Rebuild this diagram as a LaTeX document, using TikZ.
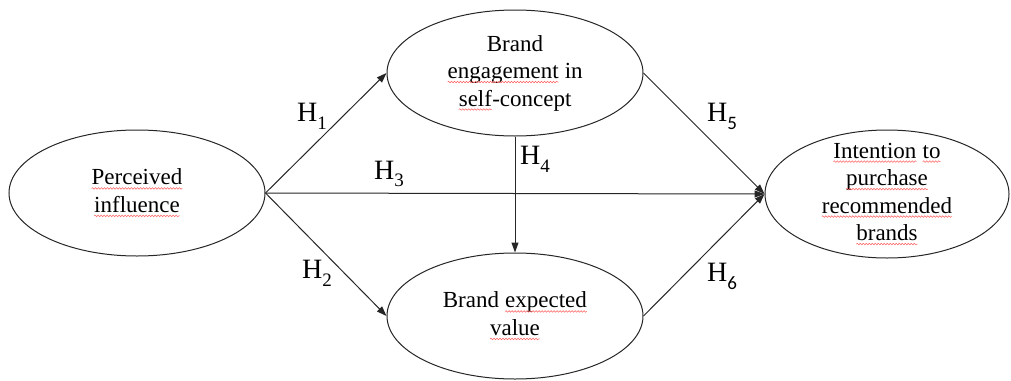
\documentclass[tikz,border=0pt]{standalone}
\usepackage{fontspec}
\setmainfont{Liberation Serif}
\newfontfamily\subfont{Carlito}
\usetikzlibrary{shapes.geometric,arrows.meta,decorations.pathmorphing}
\newcommand\spellwave[1]{\tikz[baseline=(w.base)]{%
  \node[shape=rectangle,draw=none,fill=none,minimum width=0pt,minimum height=0pt,inner sep=0pt,outer sep=0pt] (w) {#1};
  \draw[red!60,line width=0.55pt,decorate,decoration={snake,amplitude=0.8pt,segment length=3pt}]
    ([yshift=-3.5pt]w.base west) -- ([yshift=-3.5pt]w.base east);}}
\begin{document}
\begin{tikzpicture}[x=1pt,y=-1pt,
construct/.style={ellipse,draw=black!85,line width=1pt,fill=white,minimum width=256pt,minimum height=126pt,inner sep=0pt,align=center,font=\fontsize{23}{27.5}\selectfont},
hyp/.style={inner sep=0pt,font=\fontsize{28}{30}\selectfont},
path/.style={draw=black!85,line width=1pt,-{Triangle[length=10pt,width=7pt]}},
]
\useasboundingbox (0,0) rectangle (1011,380);

% constructs
\node[construct] (infl) at (137,193) {\spellwave{Perceived}\\ \spellwave{influence}};
\node[construct] (engage) at (515,73) {Brand\\ \spellwave{engagement} in\\ \spellwave{self}-concept};
\node[construct] (value) at (515,316) {Brand \spellwave{expected}\\ \spellwave{value}};
\node[construct,minimum width=244pt,minimum height=128pt,inner ysep=-18pt] (intent) at (887,194)
  {\spellwave{Intention} \spellwave{to}\\ \spellwave{purchase}\\ \spellwave{recommended}\\ \spellwave{brands}};

% paths
\path[path] (infl.east) -- (engage.west);
\path[path] (infl.east) -- (value.west);
\path[path] (infl.east) -- (intent.west);
\path[path] (engage.south) -- (value.north);
\path[path] (engage.east) -- (intent.west);
\path[path] (value.east) -- (intent.west);

% hypotheses
\node[hyp] (h1) at (312,116) {H\raisebox{-0.28em}{\fontsize{19}{19}\selectfont 1}};
\node[hyp] (h2) at (317,273) {H\raisebox{-0.28em}{\fontsize{19}{19}\selectfont 2}};
\node[hyp] (h3) at (389,174) {H\raisebox{-0.28em}{\fontsize{19}{19}\selectfont 3}};
\node[hyp] (h4) at (535,159) {H\raisebox{-0.28em}{\fontsize{19}{19}\selectfont 4}};
\node[hyp] (h5) at (722,116) {H\raisebox{-0.28em}{\fontsize{19}{19}\subfont\selectfont 5}};
\node[hyp] (h6) at (722,276) {H\raisebox{-0.28em}{\fontsize{19}{19}\subfont\selectfont 6}};
\end{tikzpicture}
\end{document}
